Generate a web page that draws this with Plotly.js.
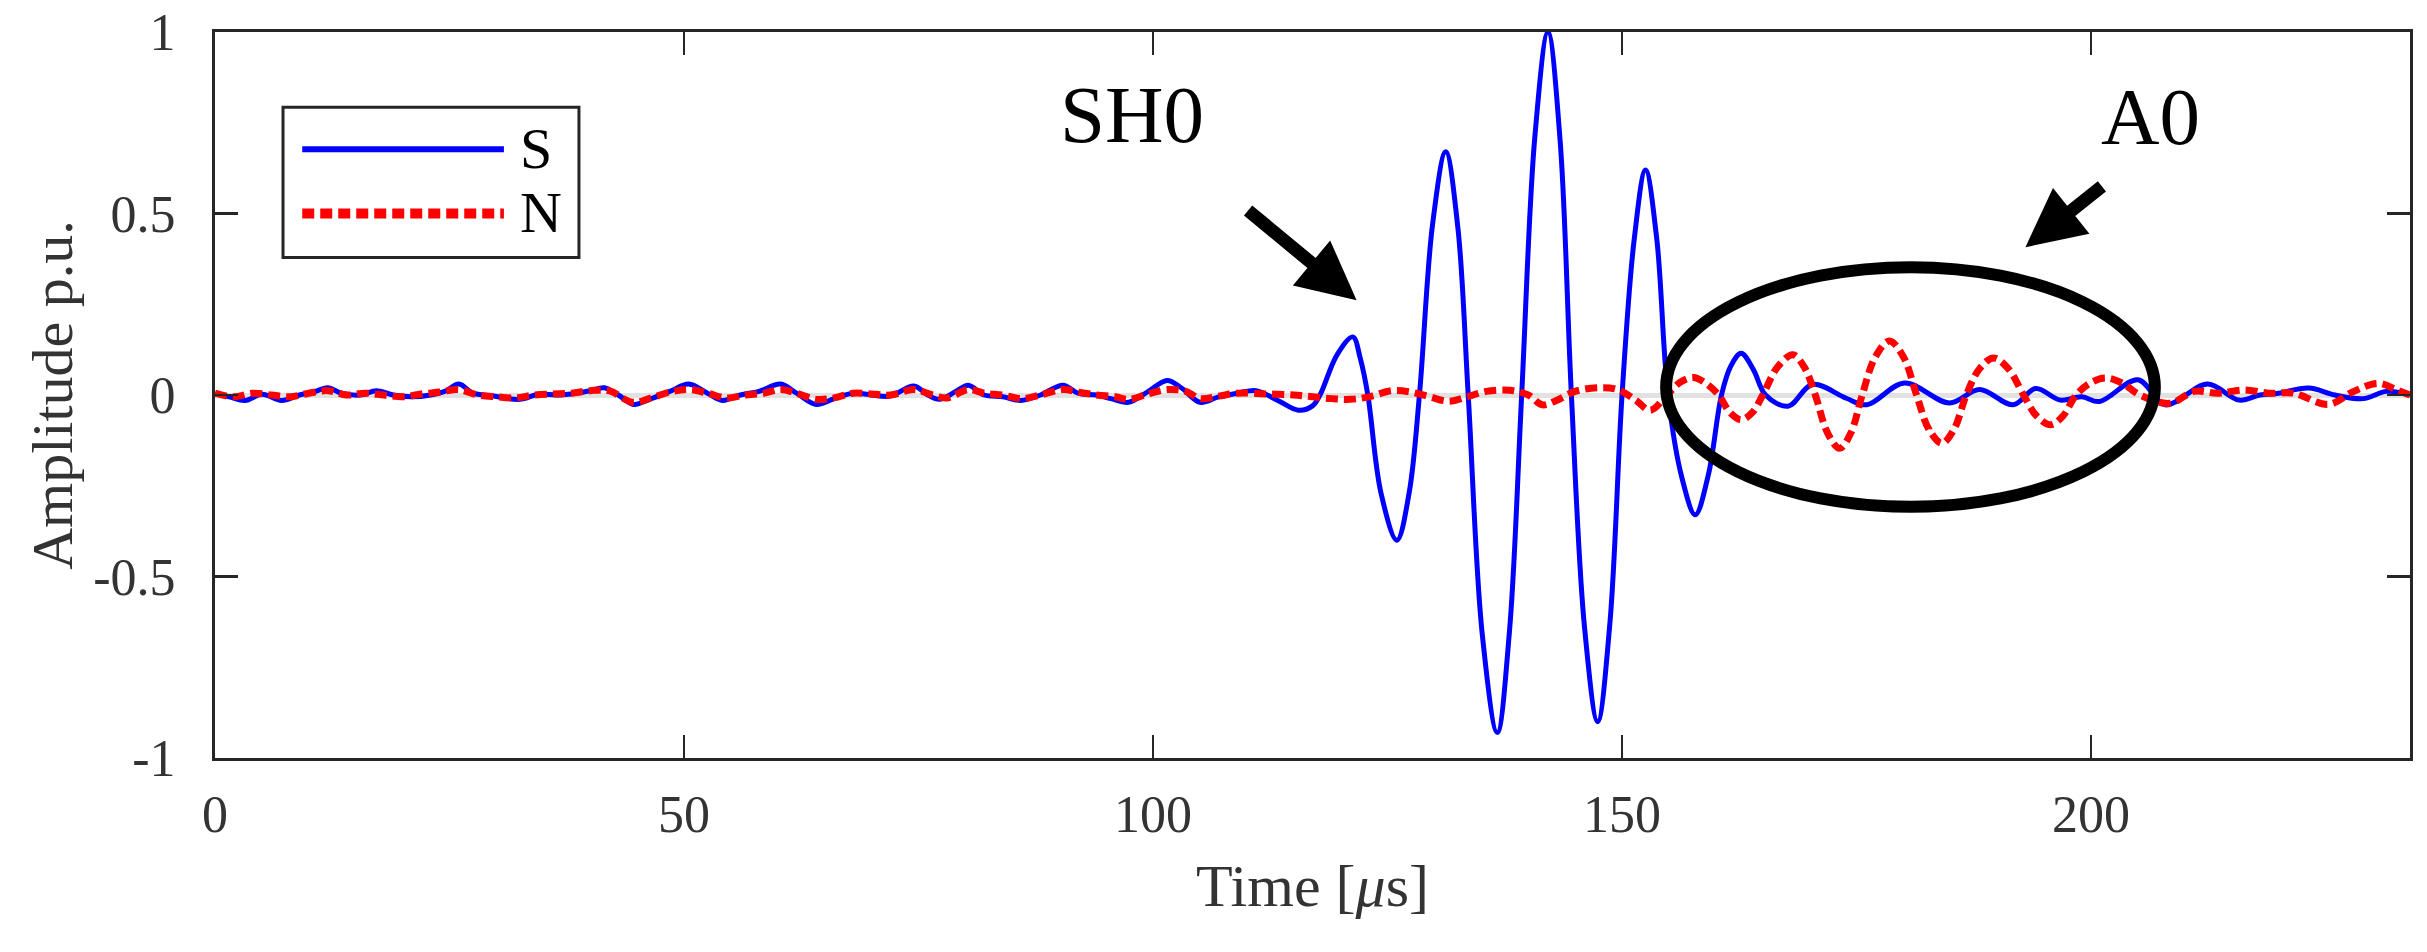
<!DOCTYPE html>
<html>
<head>
<meta charset="utf-8">
<script src="https://cdn.plot.ly/plotly-3.0.1.min.js"></script>
<style>
  html, body { margin: 0; padding: 0; background: #ffffff; }
  #chart { width: 2427px; height: 952px; }
</style>
</head>
<body>
<div id="chart"></div>
<script>
// S signal (blue)
var tS = [
  0, 1.5, 3.2, 5, 7.1, 9, 10.5, 12, 13.5, 15.5,
  17.2, 19, 21, 23, 24.5, 26, 27.5, 29.5, 32.5, 34.5,
  36.5, 38.5, 40, 41.5, 43, 44.6, 46.5, 48.5, 50.5, 52.5,
  54.1, 56, 58, 60.3, 62, 64.1, 66, 68, 70, 72,
  74.5, 76, 77.2, 79, 80.3, 82, 84, 85.9, 88, 90.4,
  92, 94, 95.5, 97.4, 99.5, 101.5, 103, 105, 107, 109,
  111, 113.3, 115.5, 117, 117.8, 119.6, 121.3, 122.1, 122.9, 124.3,
  126, 127.3, 128.4, 129.8, 131.2, 132.5, 133.6, 135.1, 136.7, 138,
  139.3, 140.7, 142.1, 143.4, 144.6, 146, 147.4, 148.7, 150, 151.3,
  152.5, 153.7, 154.9, 156.4, 157.8, 159.2, 160.6, 161.6, 162.7, 164,
  165.3, 167.7, 170.3, 173.9, 176.1, 180.1, 184.9, 188.1, 191.7, 194.1,
  196.7, 199, 200.9, 205, 207.9, 212.4, 215.8, 218, 220, 223.2,
  226, 229, 231.5, 234
];
var ampS = [
  0.003, -0.005, -0.015, 0.002, -0.015, 0, 0.008, 0.02, 0.005, 0,
  0.012, 0, -0.005, 0, 0.01, 0.03, 0.005, -0.002, -0.012, 0.002,
  0, 0.005, 0.012, 0.02, 0, -0.026, -0.01, 0.01, 0.03, 0.005,
  -0.015, 0, 0.01, 0.03, 0.005, -0.026, -0.01, 0.005, 0, -0.003,
  0.025, 0, -0.012, 0.01, 0.027, 0, -0.005, -0.015, 0, 0.027,
  0.005, 0, -0.01, -0.02, 0.01, 0.04, 0.02, -0.02, -0.005, 0.005,
  0.012, -0.015, -0.042, -0.03, 0, 0.11, 0.16, 0.1, 0, -0.27,
  -0.40, -0.27, 0, 0.47, 0.67, 0.46, 0, -0.66, -0.93, -0.65,
  0, 0.71, 1.0, 0.70, 0, -0.64, -0.90, -0.63, 0, 0.43,
  0.62, 0.43, 0, -0.23, -0.33, -0.22, 0, 0.08, 0.115, 0.07,
  0, -0.031, 0.029, -0.009, -0.027, 0.033, -0.022, 0.015, -0.027, 0.018,
  -0.014, -0.005, -0.018, 0.042, -0.027, 0.03, -0.014, 0, 0.005, 0.019,
  0, -0.01, 0.01, 0
];

// N signal (red dashed)
var tN = [
  0, 2, 4, 6, 8, 10, 12, 14, 16, 18,
  20, 22, 24, 26, 28, 30, 32, 34, 36, 38,
  40, 42, 44.5, 46.5, 48.5, 50.5, 52.5, 54.5, 56.5, 58.5,
  60.3, 62, 64.1, 66, 68, 70, 72, 74.5, 76.5, 78,
  80.3, 82, 84, 86, 88, 90.4, 92, 94, 96, 97.4,
  99.5, 101.5, 103.5, 105, 107, 109, 112, 115, 117, 119,
  121, 123, 125.5, 127.5, 129.5, 131.5, 133.5, 135.5, 138, 140,
  141.5, 143, 145, 147.5, 149.5, 151.5, 153, 154.8, 156.2, 157.6,
  158.9, 160.3, 161.5, 162.7, 163.9, 165, 166.6, 168.2, 169.4, 170.6,
  171.9, 173.2, 174.4, 175.6, 177, 178.5, 180, 181.4, 182.7, 184.1,
  185.4, 186.7, 188.1, 189.6, 191.2, 192.8, 194.2, 195.7, 197, 198.4,
  199.9, 201.5, 203.3, 205.2, 208.4, 211, 213.5, 216.3, 219, 221.6,
  225.3, 228, 230.6, 232.5, 234
];
var ampN = [
  0.005, -0.005, 0.005, 0, -0.005, 0.005, 0.012, 0, 0.005, 0,
  -0.005, 0.003, 0.008, 0.015, 0, -0.005, -0.008, 0, 0.003, 0.005,
  0.012, 0.012, -0.02, -0.008, 0.008, 0.015, 0.005, -0.008, 0, 0.005,
  0.015, 0.005, -0.012, -0.008, 0.005, 0.003, 0, 0.015, 0, -0.008,
  0.015, 0.005, 0, -0.01, 0, 0.015, 0.008, 0, -0.005, -0.012,
  0.003, 0.015, 0.01, -0.01, -0.003, 0.005, 0.003, 0, -0.005, -0.01,
  -0.012, -0.005, 0.012, 0.008, -0.005, -0.017, -0.005, 0.01, 0.013, 0,
  -0.027, -0.015, 0.01, 0.02, 0.015, -0.015, -0.042, 0, 0.035, 0.048,
  0.033, 0, -0.048, -0.068, -0.048, 0, 0.078, 0.111, 0.078, 0,
  -0.104, -0.147, -0.104, 0, 0.105, 0.149, 0.105, 0, -0.094, -0.133,
  -0.094, 0, 0.072, 0.102, 0.072, 0, -0.058, -0.082, -0.058, 0,
  0.033, 0.047, 0.033, 0, -0.023, 0.01, 0.005, 0.014, 0.005, 0.005,
  -0.026, 0.01, 0.032, 0.015, 0
];

var xTickVals = [0, 50, 100, 150, 200];
var yTickVals = [-1, -0.5, 0, 0.5, 1];
var yTickText = ['-1', '-0.5', '0', '0.5', '1'];
var seriesNames = ['S', 'N'];

var serif = 'Liberation Serif, Times New Roman, serif';
var ink = '#262626';
var labelInk = '#333333';

var traceS = {
  name: seriesNames[0],
  x: tS,
  y: ampS,
  mode: 'lines',
  type: 'scatter',
  showlegend: false,
  line: { color: '#0000ff', width: 5, shape: 'spline', smoothing: 1 },
};

var traceN = {
  name: seriesNames[1],
  x: tN,
  y: ampN,
  mode: 'lines',
  type: 'scatter',
  showlegend: false,
  line: { color: '#ff0000', width: 7, dash: '12px,6px', shape: 'spline', smoothing: 1 },
};

var layout = {
  width: 2427,
  height: 952,
  margin: { l: 215, r: 17, t: 32, b: 194 },
  paper_bgcolor: '#ffffff',
  plot_bgcolor: '#ffffff',
  font: { family: serif, color: labelInk, size: 52 },
  showlegend: false,
  xaxis: {
    range: [0, 234],
    tickvals: xTickVals,
    ticks: 'inside',
    ticklen: 23,
    tickwidth: 2.5,
    tickcolor: ink,
    showline: true,
    linecolor: ink,
    linewidth: 3,
    mirror: 'ticks',
    showgrid: false,
    zeroline: false,
    ticklabelstandoff: 9,
    tickfont: { family: serif, size: 52, color: labelInk },
    title: { text: 'Time [<i>μ</i>s]', font: { family: serif, size: 60, color: labelInk }, standoff: 22 },
  },
  yaxis: {
    range: [-1, 1],
    tickvals: yTickVals,
    ticktext: yTickText,
    ticks: 'inside',
    ticklen: 23,
    tickwidth: 2.5,
    tickcolor: ink,
    showline: true,
    linecolor: ink,
    linewidth: 3,
    mirror: 'ticks',
    showgrid: false,
    zeroline: true,
    zerolinecolor: '#e2e2e2',
    zerolinewidth: 5,
    ticklabelstandoff: 26,
    tickfont: { family: serif, size: 52, color: labelInk },
    title: { text: 'Amplitude p.u.', font: { family: serif, size: 58, color: labelInk }, standoff: 2 },
  },
  shapes: [
    // ellipse around the A0 packet
    { type: 'circle', xref: 'x', yref: 'y', x0: 154.7, x1: 206.8, y0: -0.308, y1: 0.352,
      line: { color: '#000000', width: 12 }, layer: 'above' },
    // legend box
    { type: 'rect', xref: 'x', yref: 'y', x0: 7.25, x1: 38.8, y0: 0.379, y1: 0.793,
      line: { color: ink, width: 3 }, fillcolor: '#ffffff', layer: 'above' },
    { type: 'line', xref: 'x', yref: 'y', x0: 9.3, x1: 30.8, y0: 0.677, y1: 0.677,
      line: { color: '#0000ff', width: 6 }, layer: 'above' },
    { type: 'line', xref: 'x', yref: 'y', x0: 9.3, x1: 30.8, y0: 0.50, y1: 0.50,
      line: { color: '#ff0000', width: 10, dash: '12px,6px' }, layer: 'above' },
  ],
  annotations: [
    { text: seriesNames[0], xref: 'x', yref: 'y', x: 32.3, y: 0.68, xanchor: 'left', yanchor: 'middle',
      showarrow: false, font: { family: serif, size: 58, color: '#000000' } },
    { text: seriesNames[1], xref: 'x', yref: 'y', x: 32.3, y: 0.503, xanchor: 'left', yanchor: 'middle',
      showarrow: false, font: { family: serif, size: 58, color: '#000000' } },
    { text: 'SH0', xref: 'x', yref: 'y', x: 97.8, y: 0.772, showarrow: false,
      font: { family: serif, size: 81, color: '#000000' } },
    { text: 'A0', xref: 'x', yref: 'y', x: 206.3, y: 0.766, showarrow: false,
      font: { family: serif, size: 81, color: '#000000' } },
    { text: '', xref: 'x', yref: 'y', x: 121.7, y: 0.261, ax: -110, ay: -91,
      showarrow: true, arrowhead: 2, arrowsize: 0.9, arrowwidth: 13, arrowcolor: '#000000', standoff: 0 },
    { text: '', xref: 'x', yref: 'y', x: 193.0, y: 0.407, ax: 78, ay: -62,
      showarrow: true, arrowhead: 2, arrowsize: 0.9, arrowwidth: 13, arrowcolor: '#000000', standoff: 0 },
  ],
};

Plotly.newPlot('chart', [traceS, traceN], layout, { staticPlot: true, displayModeBar: false });
</script>
</body>
</html>
